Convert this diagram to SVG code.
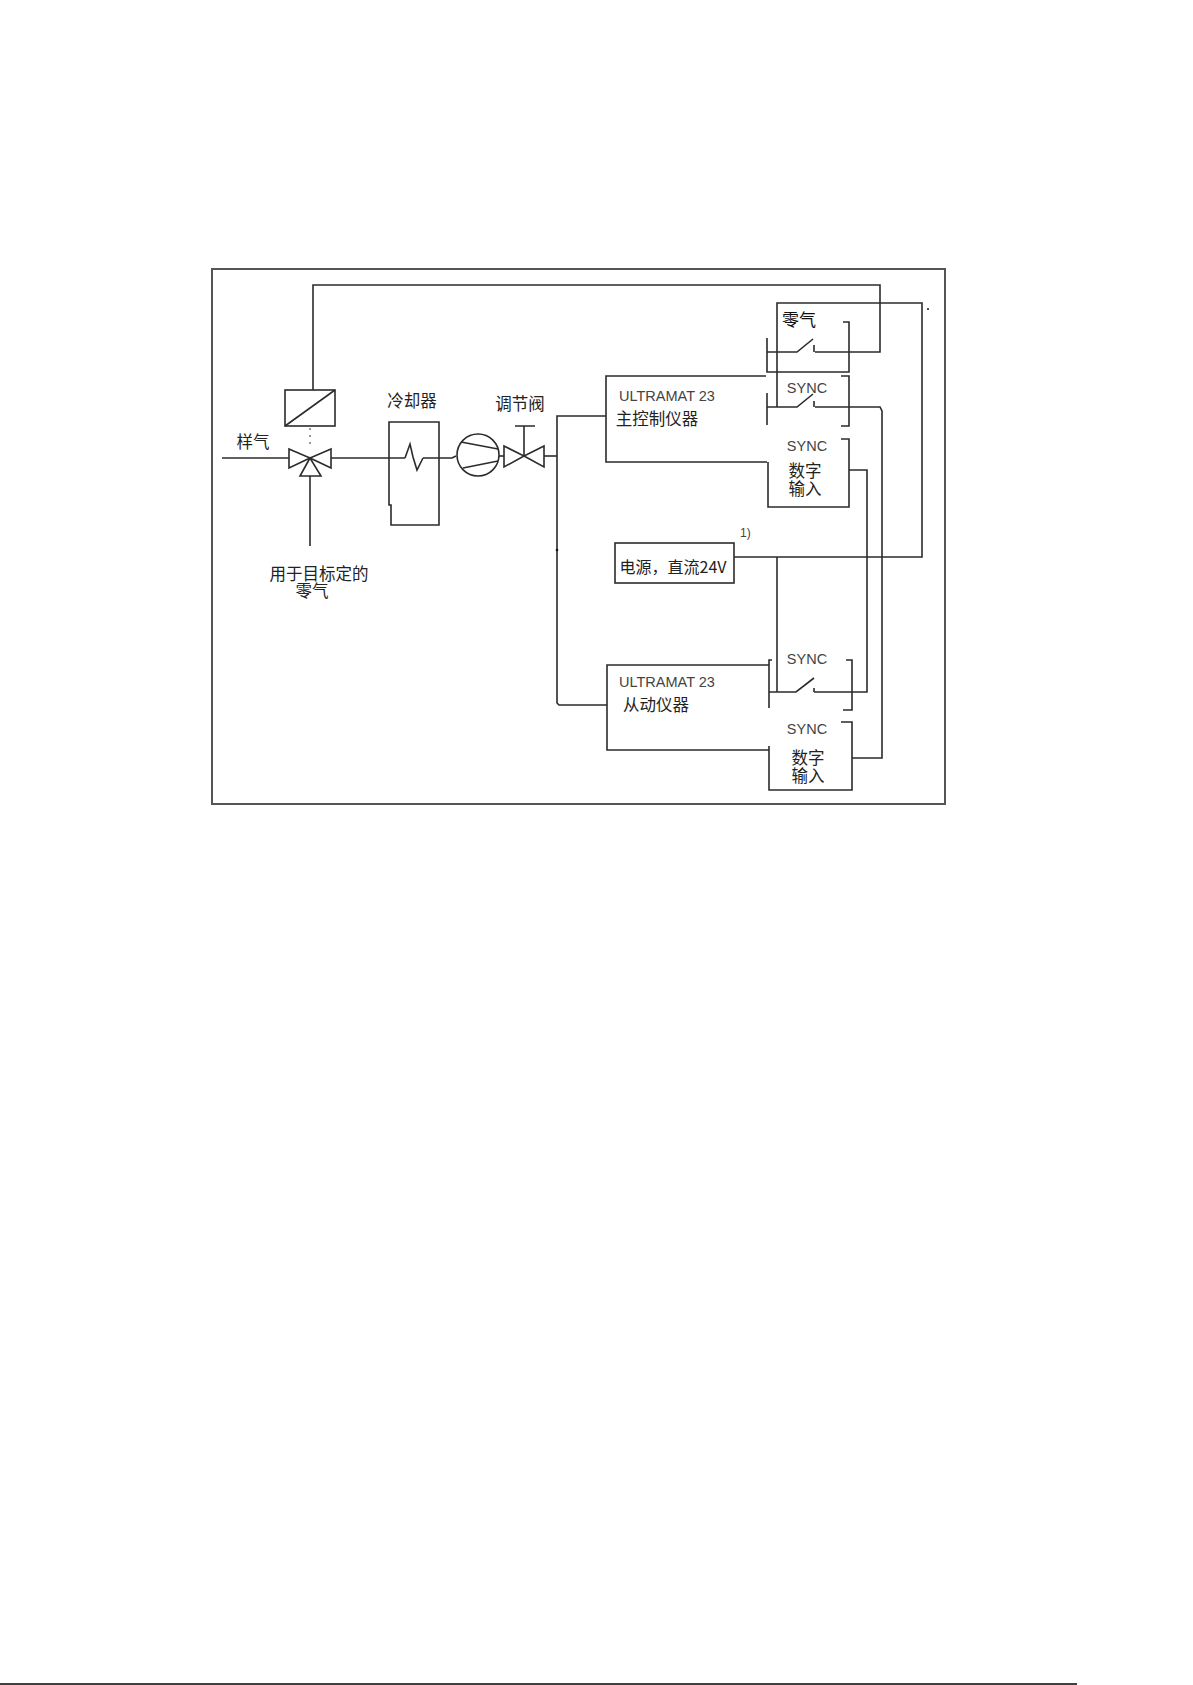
<svg xmlns="http://www.w3.org/2000/svg" width="1193" height="1685" viewBox="0 0 1193 1685">
<style>
.l{fill:none;stroke:#2b2b2b;stroke-width:1.6;stroke-linejoin:miter}
.f{fill:none;stroke:#555;stroke-width:2}
.c{font-family:"Noto Sans CJK SC","Noto Sans CJK JP",sans-serif;font-size:16.5px;fill:#222;text-anchor:middle;dominant-baseline:central}
.a{font-family:"Liberation Sans",Arial,sans-serif;font-size:14.5px;fill:#444}
.s{font-family:"Liberation Sans",Arial,sans-serif;font-size:14.5px;fill:#444;text-anchor:middle}
</style>
<rect width="1193" height="1685" fill="#fff"/>
<rect id="frame" class="f" x="212" y="269" width="733" height="535"/>
<path id="page-rule" d="M0 1684H1077" stroke="#000" stroke-width="1.5" fill="none"/>
<g id="connectors">
<path class="l" d="M313 390V285H880V352H815"/>
<path class="l" d="M777 407V303H922V557H734"/>
<path class="l" d="M777 557V692"/>
<path class="l" d="M815 407H880L882 411V758H852"/>
<path class="l" d="M849 470H867V692H814"/>
<path class="l" d="M222 458H289"/>
<path class="l" d="M331 458H405"/>
<path class="l" d="M423 458H452L456 456"/>
<path class="l" d="M310 476V546"/>
<path class="l" d="M499 456H504"/>
<path class="l" d="M544 456H557"/>
<path class="l" d="M606 416H557V703L559 705H607"/>
<path d="M310 428V447" fill="none" stroke="#777" stroke-width="1.5" stroke-dasharray="2 5"/>
<circle cx="557" cy="550" r="1.3" fill="#111"/>
<circle cx="928" cy="309" r="1" fill="#111"/>
</g>
<g id="actuator">
<rect class="l" x="285" y="390" width="50" height="36"/>
<path class="l" d="M285 426L335 390"/>
</g>
<g id="three-way-valve">
<path class="l" d="M289 449L310 458L289 468ZM331 449L310 458L331 468ZM310 458L300 476H321Z"/>
<text class="c" x="253" y="441">样气</text>
<text class="c" x="319" y="573">用于目标定的<tspan x="312" dy="17">零气</tspan></text>
</g>
<g id="cooler">
<path class="l" d="M389 422H439V525H391V505H389Z"/>
<path class="l" d="M405 458L410 444L413 457L417 470L423 458"/>
<text class="c" x="412" y="400">冷却器</text>
</g>
<g id="pump">
<circle class="l" cx="478" cy="455" r="21"/>
<path class="l" d="M461 442L498 449M463 468L498 461"/>
</g>
<g id="control-valve">
<path class="l" d="M504 446L524 456L504 467ZM544 446L524 456L544 467ZM524 456V426M515 426H535"/>
<text class="c" x="520" y="403">调节阀</text>
</g>
<g id="master">
<path class="l" d="M766 376H606V462H767"/>
<text class="a" x="619" y="401">ULTRAMAT 23</text>
<text class="c" x="657" y="418">主控制仪器</text>
</g>
<g id="master-zero-switch">
<path class="l" d="M767 338V372H849V322H843"/>
<path class="l" d="M767 352H797L813 339M814 345V352"/>
<text class="c" x="799" y="318" style="font-size:17px;fill:#111">零气</text>
</g>
<g id="master-sync-switch">
<path class="l" d="M767 393V425M841 376H849V426H841"/>
<path class="l" d="M767 407H797L813 394M814 401V407"/>
<text class="s" x="807" y="393">SYNC</text>
</g>
<g id="master-digital-input">
<path class="l" d="M841 439H849V507H768V462"/>
<text class="s" x="807" y="451">SYNC</text>
<text class="c" x="805" y="470">数字<tspan x="805" dy="18">输入</tspan></text>
</g>
<g id="power">
<rect class="l" x="615" y="543" width="119" height="40"/>
<text class="c" x="673" y="566" style="font-size:16px">电源，直流24V</text>
<text class="a" x="740" y="537" style="font-size:12px">1)</text>
</g>
<g id="slave">
<path class="l" d="M769 665H607V750H769"/>
<text class="a" x="619" y="687">ULTRAMAT 23</text>
<text class="c" x="656" y="704">从动仪器</text>
</g>
<g id="slave-sync-switch">
<path class="l" d="M772 660H769V708M846 660H852V710H843"/>
<path class="l" d="M769 692H796L814 678M814 688V692"/>
<text class="s" x="807" y="664">SYNC</text>
</g>
<g id="slave-digital-input">
<path class="l" d="M769 746V790H852V722H841"/>
<text class="s" x="807" y="734">SYNC</text>
<text class="c" x="808" y="757">数字<tspan x="808" dy="18">输入</tspan></text>
</g>
</svg>
